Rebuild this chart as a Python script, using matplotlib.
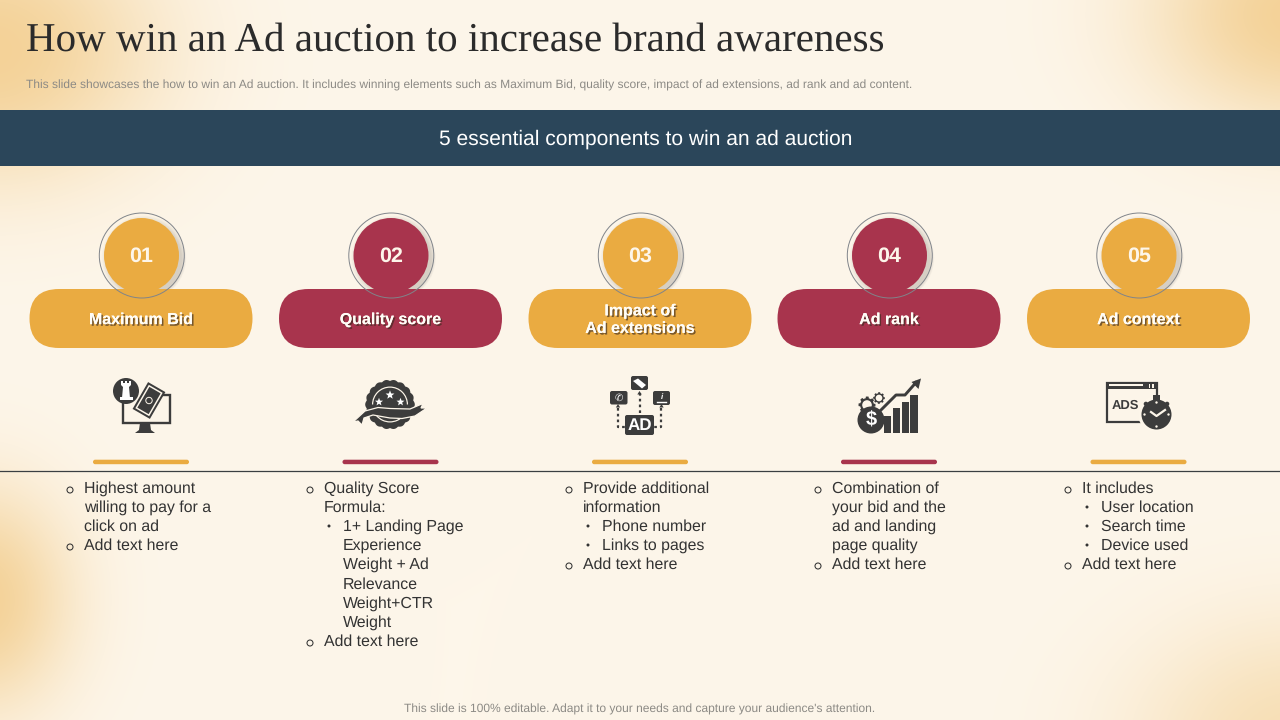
import numpy as np
import matplotlib
matplotlib.use("Agg")
import matplotlib.pyplot as plt
import matplotlib.patheffects as pe
from matplotlib.patches import Circle, FancyBboxPatch, Polygon, Rectangle, Wedge

TITLE = "How win an Ad auction to increase brand awareness"
SUBTITLE = ("This slide showcases the how to win an Ad auction. It includes winning elements such as "
            "Maximum Bid, quality score, impact of ad extensions, ad rank and ad content.")
BANNER = "5 essential components to win an ad auction"
FOOTER = "This slide is 100% editable. Adapt it to your needs and capture your audience's attention."
numbers = ["01", "02", "03", "04", "05"]
labels = ["Maximum Bid", "Quality score", "Impact of\nAd extensions", "Ad rank", "Ad context"]
centers = [141, 390.5, 640, 889, 1138.5]
text_x = [84, 324, 583, 832, 1082]
# (level, starts an item, text)
col1 = [(0, 1, "Highest amount"), (0, 0, "willing to pay for a"), (0, 0, "click on ad"), (0, 1, "Add text here")]
col2 = [(0, 1, "Quality Score"), (0, 0, "Formula:"), (1, 1, "1+ Landing Page"), (1, 0, "Experience"),
        (1, 0, "Weight + Ad"), (1, 0, "Relevance"), (1, 0, "Weight+CTR"), (1, 0, "Weight"), (0, 1, "Add text here")]
col3 = [(0, 1, "Provide additional"), (0, 0, "information"), (1, 1, "Phone number"), (1, 1, "Links to pages"),
        (0, 1, "Add text here")]
col4 = [(0, 1, "Combination of"), (0, 0, "your bid and the"), (0, 0, "ad and landing"), (0, 0, "page quality"),
        (0, 1, "Add text here")]
col5 = [(0, 1, "It includes"), (1, 1, "User location"), (1, 1, "Search time"), (1, 1, "Device used"),
        (0, 1, "Add text here")]
columns = [col1, col2, col3, col4, col5]

BG = "#FDF6EA"; GOLD = "#EAAB41"; RED = "#A8344D"; NAVY = "#2B465A"; DARK = "#3C3C3C"
SANS = ["Liberation Sans", "DejaVu Sans"]
PX = 0.72
plt.rcParams["text.hinting"] = "no_hinting"
plt.rcParams["text.hinting_factor"] = 8

fig = plt.figure(figsize=(12.8, 7.2), dpi=100)
ax = fig.add_axes([0, 0, 1, 1])
ax.set_xlim(0, 1280); ax.set_ylim(720, 0); ax.axis("off")

# background with soft corner glows
yy, xx = np.mgrid[0:720, 0:1280] + 0.5
glow = np.zeros((720, 1280))
for cx, cy, rx, ry, a in [(1300, 15, 150, 110, 1.0), (-10, 50, 165, 130, 1.0),
                          (-20, 600, 92, 112, 1.0), (1300, 745, 165, 125, .65)]:
    glow = np.maximum(glow, a * np.exp(-((xx - cx) ** 2 / rx ** 2 + (yy - cy) ** 2 / ry ** 2) ** 1.1))
c0 = np.array(matplotlib.colors.to_rgb(BG)); c1 = np.array(matplotlib.colors.to_rgb("#F4D298"))
ax.imshow(c0 + glow[..., None] * (c1 - c0), extent=(0, 1280, 720, 0), zorder=0, aspect="auto")
ax.set_xlim(0, 1280); ax.set_ylim(720, 0)

def T(x, y, s, px, color="#333333", ha="left", **kw):
    kw.setdefault("family", SANS)
    kw.setdefault("va", "center")
    return ax.text(x, y + 1, s, fontsize=px * PX, color=color, ha=ha, zorder=20, **kw)

T(26, 49.5, TITLE, 41, "#2B2B2B", family=["Liberation Serif", "DejaVu Serif"], va="baseline")
T(26, 84, SUBTITLE, 12, "#8C8A85")
ax.add_patch(Rectangle((0, 110), 1280, 56, color=NAVY, lw=0, zorder=2))
T(645.5, 138.5, BANNER, 21, "white", ha="center")
T(640, 708, FOOTER, 12, "#8C8A85", ha="center")
ax.plot([0, 1280], [471, 471], color="#3A3F42", lw=.9, zorder=2)

def star(cx, cy, r, color="white", z=11, n=5, inner=.42):
    t = -np.pi / 2 + np.arange(2 * n) * np.pi / n
    rr = np.where(np.arange(2 * n) % 2 == 0, r, r * inner)
    ax.add_patch(Polygon(np.c_[cx + rr * np.cos(t), cy + rr * np.sin(t)], color=color, lw=0, zorder=z))

def gear(cx, cy, r, color=DARK, hole=BG, n=8, z=8):
    t = np.linspace(0, 2 * np.pi, 97)
    rr = r * (0.86 + 0.2 * (np.cos(n * t) > 0))
    ax.add_patch(Polygon(np.c_[cx + rr * np.cos(t), cy + rr * np.sin(t)], color=color, lw=0, zorder=z))
    ax.add_patch(Circle((cx, cy), r * .6, color=hole, lw=0, zorder=z + .1))

def box(x0, y0, x1, y1, rad=2, color=DARK, z=8):
    ax.add_patch(FancyBboxPatch((x0 + rad, y0 + rad), x1 - x0 - 2 * rad, y1 - y0 - 2 * rad,
                                boxstyle=f"round,pad={rad}", color=color, lw=0, zorder=z))

def icon_bid():
    ax.plot([131, 122.5, 122.5, 169.5, 169.5, 161], [395, 395, 423, 423, 395, 395], color=DARK, lw=1.7,
            solid_joinstyle="miter", zorder=8)
    ax.add_patch(Polygon([(140, 423), (150, 423), (151, 430), (155, 433), (135, 433), (139, 430)],
                         color=DARK, lw=0, zorder=8))
    ax.add_patch(Circle((126, 391), 13, color=DARK, lw=0, zorder=9))
    ax.add_patch(Polygon([(122, 398), (130, 398), (129, 387), (131, 385), (131, 381), (129, 381), (129, 383),
                          (127, 383), (127, 381), (125, 381), (125, 383), (123, 383), (123, 381), (121, 381),
                          (121, 385), (123, 387), (122, 398)],
                         color="white", lw=0, zorder=10))
    ax.add_patch(Rectangle((119.5, 397), 13, 3, color="white", lw=0, zorder=10))
    ang = np.deg2rad(30)
    R = np.array([[np.cos(ang), -np.sin(ang)], [np.sin(ang), np.cos(ang)]])
    for hw, hh, col in [(10, 15.5, DARK), (8, 13.5, BG), (6.5, 12, DARK)]:
        p = np.array([(-hw, -hh), (hw, -hh), (hw, hh), (-hw, hh)]) @ R.T + [149, 400.5]
        ax.add_patch(Polygon(p, color=col, lw=0, zorder=10))
    ax.add_patch(Circle((149, 400.5), 3.2, fc=DARK, ec=BG, lw=.7, zorder=11))

def icon_badge():
    t = np.linspace(0, 2 * np.pi, 241)
    r = 23.5 + 1.3 * np.abs(np.cos(9 * t))
    ax.add_patch(Polygon(np.c_[390 + r * np.cos(t), 404.5 + r * np.sin(t)], color=DARK, lw=0, zorder=8))
    ax.add_patch(Wedge((390, 404.5), 18, 180, 360, width=1.2, color=BG, lw=0, zorder=9))
    ax.add_patch(Wedge((390, 404.5), 18, 40, 140, width=1.2, color=BG, lw=0, zorder=9))
    for x, y, s in [(390, 395, 4.6), (379, 402, 4.2), (400.5, 402, 4.2)]:
        star(x, y, s)
    band = [(353, 422), (365, 411), (378, 407.5), (390, 408.5), (410, 409), (423, 403.5), (421, 408), (427, 408),
            (415, 416), (402, 418.5), (390, 418), (373, 415), (364, 418), (362, 425), (358, 421)]
    ax.add_patch(Polygon(band, fc=DARK, ec=BG, lw=.9, zorder=10))

def icon_ad():
    for x0, y0, x1, y1 in [(610, 391, 627.5, 404.5), (631, 376, 648, 390), (653, 391, 670, 405)]:
        box(x0, y0, x1, y1)
    box(625, 415, 654, 435)
    T(639.5, 424.5, "AD", 17, "white", ha="center", fontweight="bold")
    T(618.5, 397, "\u2706", 10, "white", ha="center", family=["DejaVu Sans"])
    ax.add_patch(Polygon([(633, 381), (638, 378.5), (646, 385), (642, 388.5)], color="white", lw=0, zorder=9))
    T(661.5, 396, "i", 8, "white", ha="center", fontweight="bold", style="italic")
    ax.plot([657, 666], [402, 402], color="white", lw=1, zorder=9)
    dash = dict(color=DARK, lw=1.6, ls=(0, (1.2, 1.4)), zorder=7)
    ax.plot([618, 618, 625], [408, 427, 427], **dash)
    ax.plot([639.5, 639.5], [393, 415], **dash)
    ax.plot([661, 661, 654], [408, 427, 427], **dash)
    for x, y in [(618, 405), (639.5, 392), (661.5, 405)]:
        ax.add_patch(Polygon([(x - 2.2, y + 2.5), (x + 2.2, y + 2.5), (x, y - 1)], color=DARK, lw=0, zorder=7))

def icon_growth():
    for x0, x1, top in [(884, 891, 416), (893, 900, 408), (901.5, 908.5, 402), (910, 917.5, 395)]:
        ax.add_patch(Rectangle((x0, top), x1 - x0, 433 - top, color=DARK, lw=0, zorder=8))
    ax.plot([881, 896, 905, 916], [410, 395, 395, 382.5], color=DARK, lw=2.1, zorder=8)
    ax.add_patch(Polygon([(921, 378.5), (918.5, 389), (911.5, 382)], color=DARK, lw=0, zorder=8))
    gear(867, 405, 8, n=8)
    gear(879, 398, 5.5, n=8)
    ax.add_patch(Circle((871, 420), 13.5, color=DARK, lw=0, zorder=9))
    T(871, 419.5, "$", 20, "white", ha="center", fontweight="bold")

def icon_ads():
    ax.add_patch(Rectangle((1107, 382.5), 49.5, 39, fc="none", ec=DARK, lw=1.6, zorder=8))
    ax.add_patch(Rectangle((1107, 382), 50, 7, fc=DARK, lw=0, zorder=8))
    ax.add_patch(Rectangle((1109, 384), 34, 2.2, fc=BG, lw=0, zorder=9))
    for x in (1148.5, 1152):
        ax.add_patch(Rectangle((x, 383.5), 1.8, 4, fc=BG, lw=0, zorder=9))
    T(1125.5, 405, "ADS", 13, DARK, ha="center", fontweight="bold")
    ax.add_patch(Circle((1156, 414), 18, color=BG, lw=0, zorder=10))
    ax.add_patch(Circle((1156.5, 414.5), 15, color=DARK, lw=0, zorder=11))
    ax.add_patch(Rectangle((1153, 395), 7, 5, color=DARK, lw=0, zorder=11))
    for a in (-45, 45):
        x = 1156.5 + 15 * np.sin(np.deg2rad(a)); y = 414.5 - 15 * np.cos(np.deg2rad(a))
        ax.add_patch(Circle((x, y), 2.2, color=DARK, lw=0, zorder=11))
    for dx, dy in [(0, -12), (12, 0), (0, 12), (-12, 0)]:
        ax.add_patch(Circle((1156.5 + dx, 414.5 + dy), 1.2, color=BG, lw=0, zorder=12))
    ax.plot([1151, 1156.5, 1165], [412, 416, 410], color=BG, lw=1.6, zorder=12)

icons = [icon_bid, icon_badge, icon_ad, icon_growth, icon_ads]
line_y = [488, 507, 526, 545, 564, 584, 603, 622, 641]

for i, cx in enumerate(centers):
    col = GOLD if i % 2 == 0 else RED
    # shadow of the disc
    for k in range(10):
        ax.add_patch(Circle((cx + 3 + k * .2, 258 + k * .15), 36 + (9 - k) * .7, color="#8A8378",
                            alpha=.035, lw=0, zorder=3))
    box(cx - 111.5, 289, cx + 111.5, 348, rad=29.5, color=col, z=4)
    ax.add_patch(Circle((cx + .5, 255.5), 37.5, color=col, lw=0, zorder=5))
    ax.add_patch(Circle((cx + .8, 255.5), 42.5, fc="none", ec="#80848A", lw=.7, zorder=6))
    T(cx + .3, 255.5, numbers[i], 21.5, "#FDF6EA", ha="center", fontweight="bold")
    lab = T(cx, 319, labels[i], 16, "#FFFDF7", ha="center", fontweight="bold", linespacing=1.22)
    lab.set_path_effects([pe.withSimplePatchShadow(offset=(1.2, -1.2), shadow_rgbFace="#3a2a20", alpha=.65),
                          pe.Normal()])
    icons[i]()
    box(cx - 48, 459.7, cx + 48, 464.2, rad=2.2, color=col, z=4)
    for (lev, start, s), y in zip(columns[i], line_y):
        tx = text_x[i] + 19 * lev
        T(tx, y, s, 15.9, "#333333")
        if start:
            if lev == 0:
                ax.add_patch(Circle((tx - 14, y + 2), 3, fc="none", ec="#333333", lw=.75, zorder=20))
            else:
                ax.add_patch(Circle((tx - 14, y), 1.5, color="#333333", lw=0, zorder=20))

fig.savefig("out.png", dpi=100)
